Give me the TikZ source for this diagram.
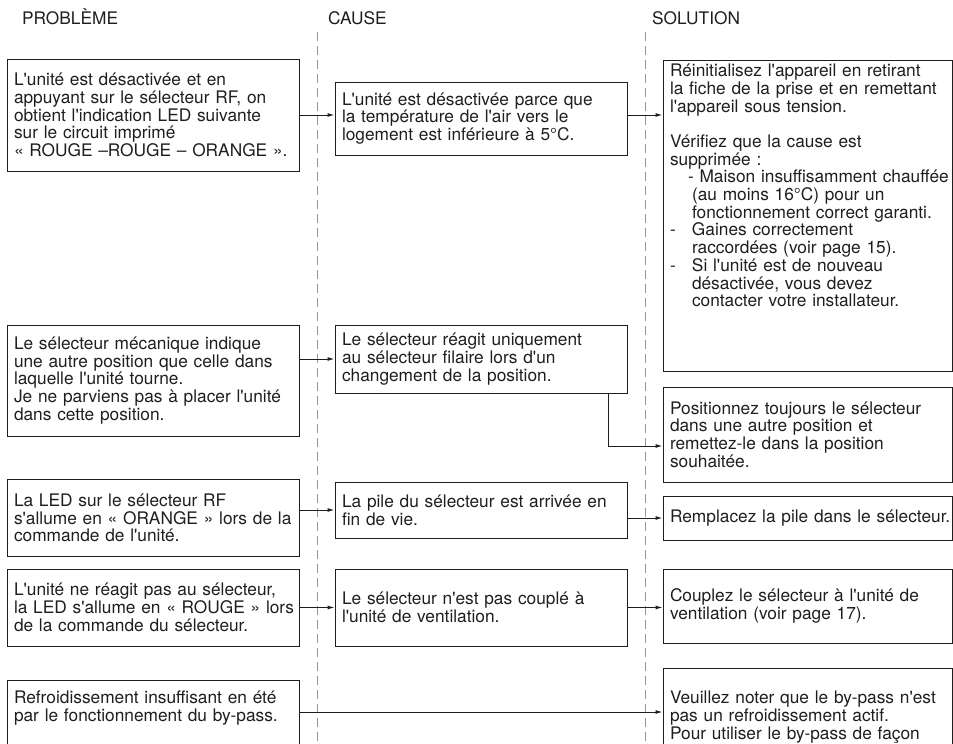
\documentclass[tikz,border=0pt]{standalone}
\usepackage{fontspec}
\setmainfont{TeX Gyre Heros}[Ligatures=TeXOff]
\usetikzlibrary{arrows.meta}
\tikzset{>={Latex[length=7pt,width=4pt]}}
\definecolor{ink}{RGB}{30,30,30}
\definecolor{guide}{RGB}{150,150,150}
\tikzset{
  box/.style = {draw=ink, line width=1pt, align=left, inner xsep=7pt, inner ysep=0pt},
  head/.style = {anchor=base west, inner sep=0pt},
  guideline/.style = {guide, line width=0.8pt, dash pattern=on 9pt off 5pt},
  link/.style = {->, ink, line width=1pt}
}
\newcommand{\topbox}[3]{\parbox[c][#1][t]{#2}{#3}}

\begin{document}
\begin{tikzpicture}[x=1pt,y=-1pt,font=\fontsize{17.3pt}{17.7pt}\selectfont,text=ink]
  \useasboundingbox (0,0) rectangle (953,744);
  \node[head] (hprob) at (22,24) {PROBLÈME};
  \node[head] (hcause) at (328,24) {CAUSE};
  \node[head] (hsol) at (652,24) {SOLUTION};
  \draw[guideline] (317,32) -- (317,744);
  \draw[guideline] (645.5,32) -- (645.5,744);

  \node[box, text width=278pt, minimum height=112pt] (p1) at (153,115) {L'unité est désactivée et en\\appuyant sur le sélecteur RF, on\\obtient l'indication LED suivante\\sur le circuit imprimé\\«~ROUGE –ROUGE –~ORANGE~».};
  \node[box, text width=278pt, minimum height=73pt] (c1) at (481,118.5) {L'unité est désactivée parce que\\la température de l'air vers le\\logement est inférieure à 5°C.};
  \node[box, text width=275pt, minimum height=311pt] (s1) at (807.5,215.5) {\topbox{311pt}{275pt}{\vspace*{4pt}Réinitialisez l'appareil en retirant\\la fiche de la prise et en remettant\\l'appareil sous tension.\\[17.7pt]Vérifiez que la cause est\\supprimée~:\\\mbox{\hspace*{18pt}- Maison insuffisamment chauffée}\\\hspace*{22pt}(au moins 16°C) pour un\\\hspace*{22pt}fonctionnement correct garanti.\\\makebox[22pt][l]{-}Gaines correctement\\\hspace*{22pt}raccordées (voir page 15).\\\makebox[22pt][l]{-}Si l'unité est de nouveau\\\hspace*{22pt}désactivée, vous devez\\\hspace*{22pt}contacter votre installateur.}};

  \node[box, text width=278pt, minimum height=111pt] (p2) at (153,380.5) {Le sélecteur mécanique indique\\une autre position que celle dans\\laquelle l'unité tourne.\\Je ne parviens pas à placer l'unité\\dans cette position.};
  \node[box, text width=278pt, minimum height=68pt] (c2) at (481,359) {Le sélecteur réagit uniquement\\au sélecteur filaire lors d'un\\changement de la position.};
  \node[box, text width=275pt, minimum height=95pt] (s2) at (807.5,434.5) {Positionnez toujours le sélecteur\\dans une autre position et\\remettez-le dans la position\\souhaitée.};

  \node[box, text width=278pt, minimum height=77pt] (p3) at (153,518) {La LED sur le sélecteur RF\\\mbox{s'allume en «~ORANGE~» lors de la}\\commande de l'unité.};
  \node[box, text width=278pt, minimum height=56pt] (c3) at (481,510) {La pile du sélecteur est arrivée en\\fin de vie.};
  \node[box, text width=275pt, minimum height=44pt] (s3) at (807.5,518) {\mbox{Remplacez la pile dans le sélecteur.}};

  \node[box, text width=278pt, minimum height=77pt] (p4) at (153,607.5) {L'unité ne réagit pas au sélecteur,\\\mbox{la LED s'allume en «~ROUGE~» lors}\\de la commande du sélecteur.};
  \node[box, text width=278pt, minimum height=77pt] (c4) at (481,607.5) {Le sélecteur n'est pas couplé à\\l'unité de ventilation.};
  \node[box, text width=275pt, minimum height=74pt] (s4) at (807.5,606) {Couplez le sélecteur à l'unité de\\ventilation (voir page 17).};

  \node[box, text width=278pt, minimum height=80pt] (p5) at (153,720) {\topbox{80pt}{278pt}{\vspace*{11pt}Refroidissement insuffisant en été\\par le fonctionnement du by-pass.}};
  \node[box, text width=275pt, minimum height=122pt] (s5) at (807.5,729) {\topbox{122pt}{275pt}{\vspace*{23pt}Veuillez noter que le by-pass n'est\\pas un refroidissement actif.\\Pour utiliser le by-pass de façon}};

  % links between the columns
  \draw[link] (p1) -- (p1 -| c1.west);
  \draw[link] (p1 -| c1.east) -- (p1 -| s1.west);
  \draw[link] (c2 -| p2.east) -- (c2);
  \draw[link] ([xshift=-19pt]c2.south east) |- ([yshift=-11.5pt]s2.west);
  \draw[link] (c3 -| p3.east) -- (c3);
  \draw[link] (s3 -| c3.east) -- (s3);
  \draw[link] (p4) -- (c4);
  \draw[link] (c4) -- (c4 -| s4.west);
  \draw[link] ([yshift=8pt]p5.east) -- ([yshift=8pt]p5.east -| s5.west);
\end{tikzpicture}
\end{document}
